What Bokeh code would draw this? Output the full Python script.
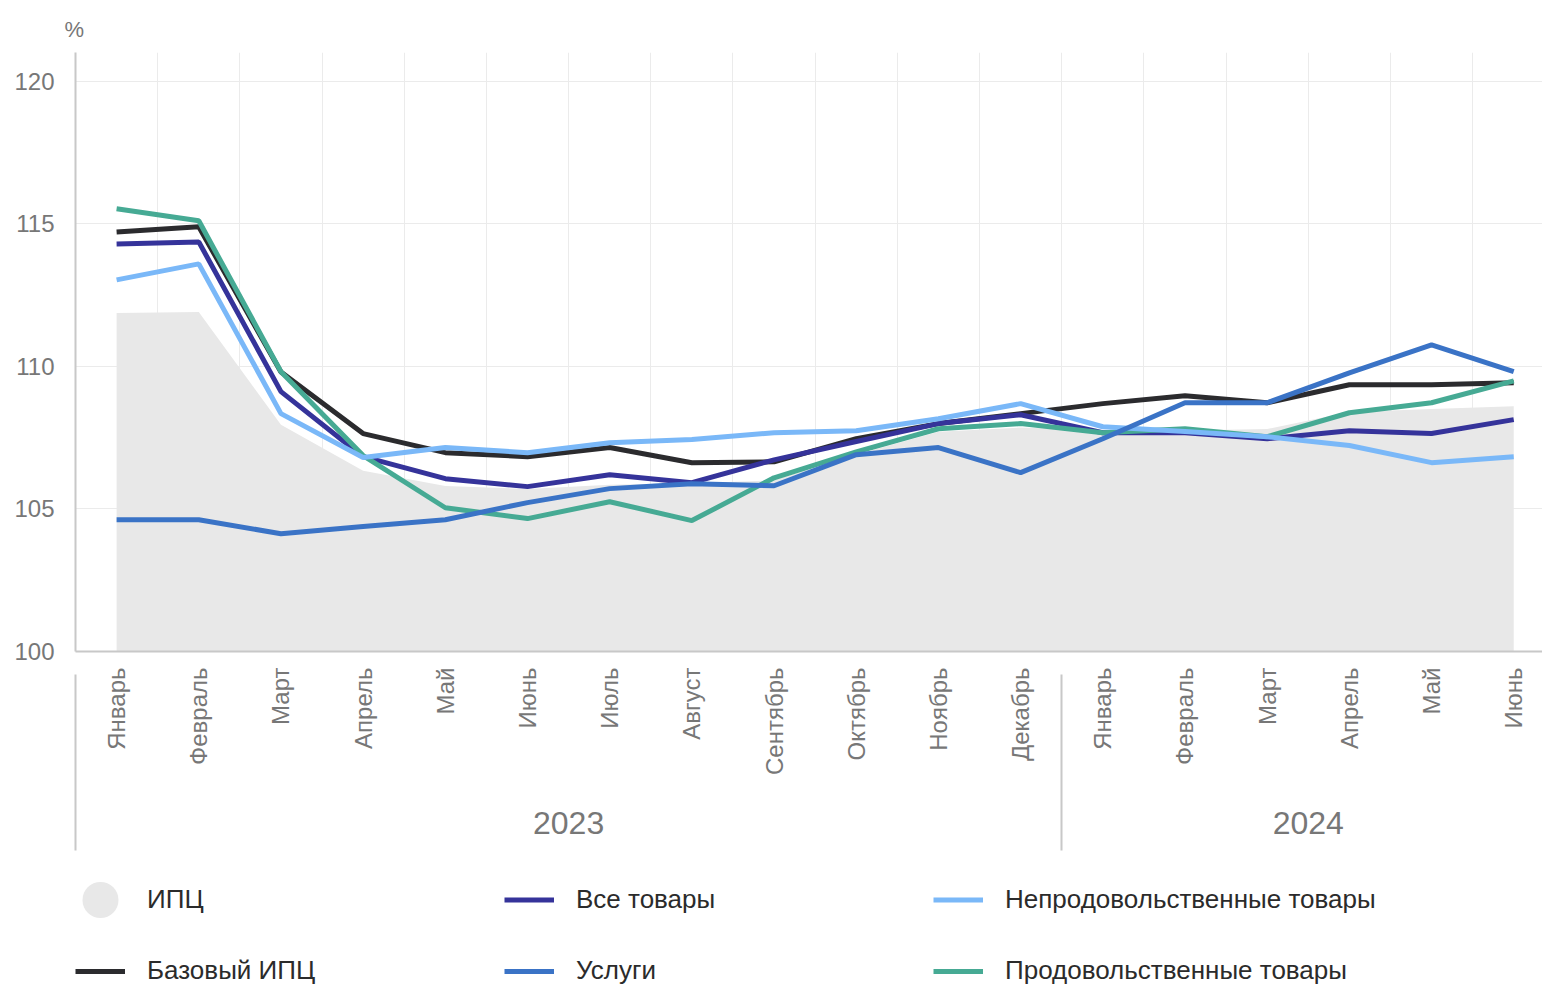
import math
import numpy as np
from bokeh.plotting import figure
from bokeh.layouts import column
from bokeh.models import (Range1d, FixedTicker, LinearAxis, Legend, LegendItem,
                          ColumnDataSource)
from bokeh.embed import file_html
from bokeh.resources import INLINE

months = ["Январь", "Февраль", "Март", "Апрель", "Май", "Июнь", "Июль", "Август",
          "Сентябрь", "Октябрь", "Ноябрь", "Декабрь",
          "Январь", "Февраль", "Март", "Апрель", "Май", "Июнь"]
years = ["2023", "2024"]
year_spans = [(0, 11), (12, 17)]

cpi      = [111.87, 111.9, 107.95, 106.34, 105.8, 105.7, 105.85, 105.9, 106.0, 106.9,
            107.7, 107.85, 107.75, 107.75, 107.8, 108.4, 108.5, 108.6]
core     = [114.71, 114.89, 109.8, 107.64, 106.97, 106.83, 107.15, 106.62, 106.65, 107.46,
            107.99, 108.34, 108.69, 108.97, 108.72, 109.35, 109.35, 109.42]
goods    = [114.29, 114.36, 109.11, 106.83, 106.06, 105.78, 106.2, 105.92, 106.72, 107.36,
            107.99, 108.3, 107.67, 107.67, 107.46, 107.74, 107.64, 108.13]
nonfood  = [113.03, 113.59, 108.34, 106.8, 107.15, 106.97, 107.32, 107.43, 107.67, 107.74,
            108.16, 108.69, 107.88, 107.71, 107.53, 107.22, 106.62, 106.83]
services = [104.62, 104.62, 104.13, 104.38, 104.62, 105.22, 105.71, 105.88, 105.81, 106.9,
            107.15, 106.27, 107.46, 108.72, 108.72, 109.77, 110.75, 109.81]
food     = [115.52, 115.1, 109.81, 106.87, 105.04, 104.66, 105.25, 104.59, 106.09, 107.0,
            107.81, 107.99, 107.67, 107.81, 107.53, 108.37, 108.72, 109.49]

y_ticks = [100, 105, 110, 115, 120]

series = [  # (label, key, colour) in drawing order
    ("Базовый ИПЦ", "core", "#2b2b2e"),
    ("Все товары", "goods", "#35339a"),
    ("Продовольственные товары", "food", "#46aa94"),
    ("Непродовольственные товары", "nonfood", "#7ab8f8"),
    ("Услуги", "services", "#3a73c6"),
]
CPI_LABEL, CPI_COLOR = "ИПЦ", "#e8e8e8"

FONT = "Liberation Sans"
GRAY_TXT = "#777777"
AXIS_COL = "#c8c8c8"
LW = 5

x = list(range(len(months)))
src = ColumnDataSource(dict(x=x, cpi=cpi, core=core, goods=goods, nonfood=nonfood,
                            services=services, food=food, base=[100] * len(x)))

p = figure(width=1542, height=877, output_backend="svg", toolbar_location=None,
           x_range=Range1d(-0.5, 17.35), y_range=Range1d(100, 121),
           x_axis_location=None, y_axis_location="left",
           min_border_left=75, min_border_right=0, min_border_top=52, min_border_bottom=226,
           outline_line_color=None)

# title "%"
p.title.text = "%"
p.title.align = "left"
p.title.offset = -11
p.title.text_font = FONT
p.title.text_font_size = "22px"
p.title.text_font_style = "normal"
p.title.text_color = GRAY_TXT
p.title.standoff = 22

# y axis
ya = p.yaxis[0]
ya.ticker = FixedTicker(ticks=y_ticks)
ya.axis_line_color = AXIS_COL
ya.axis_line_width = 2
ya.major_tick_line_color = None
ya.minor_tick_line_color = None
ya.major_tick_out = 0
ya.major_label_text_font = FONT
ya.major_label_text_font_size = "24px"
ya.major_label_text_color = GRAY_TXT
ya.major_label_standoff = 21

# grids
p.ygrid.ticker = FixedTicker(ticks=y_ticks)
p.ygrid.grid_line_color = "#ebebeb"
p.ygrid.grid_line_width = 1
p.xgrid.ticker = FixedTicker(ticks=[i + 0.5 for i in range(-1, len(months) - 1)])
p.xgrid.grid_line_color = "#ebebeb"
p.xgrid.grid_line_width = 1

# month axis
xa = LinearAxis(ticker=FixedTicker(ticks=x),
                major_label_overrides={i: m for i, m in enumerate(months)},
                major_label_orientation=math.pi / 2,
                axis_line_color=AXIS_COL, axis_line_width=2,
                major_tick_line_color=None, minor_tick_line_color=None,
                major_tick_out=0, major_tick_in=0, minor_tick_out=0, minor_tick_in=0,
                major_label_text_font=FONT, major_label_text_font_size="24px",
                major_label_text_color=GRAY_TXT, major_label_standoff=16)
p.add_layout(xa, "below")

# year axis
ycent = [(a + b) / 2 for a, b in year_spans]
ya2 = LinearAxis(ticker=FixedTicker(ticks=ycent),
                 major_label_overrides={c: t for c, t in zip(ycent, years)},
                 axis_line_color=None, major_tick_line_color=None, minor_tick_line_color=None,
                 major_tick_out=0, major_tick_in=0, minor_tick_out=0, minor_tick_in=0,
                 major_label_text_font=FONT, major_label_text_font_size="32px",
                 major_label_text_color=GRAY_TXT, major_label_standoff=33)
p.add_layout(ya2, "below")

# separator axis: its minor ticks are the year-group separators
seps = [year_spans[0][0] - 0.5] + [(year_spans[i][1] + year_spans[i + 1][0]) / 2
                                   for i in range(len(year_spans) - 1)]
sa = LinearAxis(ticker=FixedTicker(ticks=[], minor_ticks=seps),
                axis_line_color=None, major_tick_line_color=None,
                major_tick_out=0, major_tick_in=0,
                minor_tick_line_color=AXIS_COL, minor_tick_line_width=2,
                minor_tick_in=162, minor_tick_out=14,
                major_label_standoff=0, major_label_text_font_size="1px")
p.add_layout(sa, "below")

# data
p.varea(x="x", y1="base", y2="cpi", source=src, fill_color=CPI_COLOR)
for label, key, color in series:
    p.line("x", key, source=src, line_color=color, line_width=LW)

# ---- legend (separate strip below the chart) ----
lf = figure(width=1542, height=109, output_backend="svg", toolbar_location=None,
            x_range=Range1d(0, 1), y_range=Range1d(0, 1),
            min_border_left=75, min_border_right=0, min_border_top=0, min_border_bottom=0,
            outline_line_color=None)
lf.axis.visible = False
lf.grid.visible = False

# legend proxies: one invisible (NaN) point each, so the legend can draw their glyphs
nan_src = ColumnDataSource(dict(x=np.array([np.nan]), y=np.array([np.nan]),
                                w=np.array([1.0]), h=np.array([1.0])))
proxy = {}
for label, key, color in series:
    proxy[label] = lf.line(x="x", y="y", source=nan_src, line_color=color, line_width=LW)
proxy[CPI_LABEL] = lf.ellipse(x="x", y="y", width="w", height="h", width_units="screen",
                              height_units="screen", source=nan_src,
                              fill_color=CPI_COLOR, line_color=None)

rows = [[CPI_LABEL, "Все товары", "Непродовольственные товары"],
        ["Базовый ИПЦ", "Услуги", "Продовольственные товары"]]
for row, gh, loc in zip(rows, (45, 30), ("top_left", "bottom_left")):
    lg = Legend(items=[LegendItem(label=l, renderers=[proxy[l]]) for l in row],
                location=loc, orientation="horizontal",
                glyph_width=50, glyph_height=gh, label_height=30, label_width=337,
                label_standoff=22, spacing=20, padding=0, margin=0,
                border_line_color=None, background_fill_alpha=0,
                label_text_font=FONT, label_text_font_size="26px",
                label_text_color="#2b2b2b")
    lf.add_layout(lg, "center")

layout = column(p, lf, spacing=0)
open("out.html", "w").write(file_html(layout, INLINE))
